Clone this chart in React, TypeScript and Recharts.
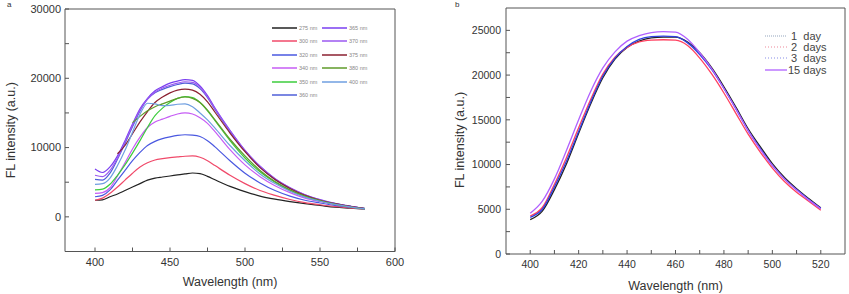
import React from 'react'
import { LineChart, Line, XAxis, YAxis, ReferenceLine, Legend } from 'recharts'

// panel a: emission spectra at different excitation wavelengths
const wlA = [400, 405, 410, 415, 420, 425, 430, 435, 440, 445, 450, 455, 460, 465, 470, 475, 480, 490, 500, 510, 520, 530, 540, 550, 560, 570, 580]

const ex275 = [2400, 2450, 2900, 3300, 3800, 4300, 4800, 5300, 5600, 5750, 5900, 6050, 6200, 6330, 6250, 5850, 5350, 4400, 3650, 3000, 2550, 2200, 1900, 1650, 1400, 1250, 1100]
const ex300 = [2400, 2700, 3400, 4300, 5300, 6300, 7200, 7800, 8200, 8400, 8550, 8650, 8750, 8800, 8600, 8100, 7400, 6000, 4800, 3800, 3100, 2500, 2050, 1750, 1500, 1300, 1150]
const ex320 = [2900, 3100, 3900, 5300, 6700, 8100, 9300, 10300, 10900, 11300, 11550, 11750, 11850, 11800, 11600, 11000, 10100, 8100, 6300, 4900, 3800, 3000, 2400, 2000, 1650, 1400, 1200]
const ex340 = [3400, 3500, 4200, 5900, 7800, 9800, 11500, 12900, 13700, 14100, 14500, 14850, 15000, 14850, 14300, 13500, 12300, 9700, 7500, 5800, 4500, 3500, 2700, 2200, 1800, 1450, 1200]
const ex350 = [3900, 4000, 4700, 6000, 7500, 9200, 11000, 12900, 14600, 15700, 16500, 17100, 17350, 17200, 16500, 15300, 13900, 11000, 8500, 6500, 5000, 3800, 2900, 2300, 1850, 1500, 1200]
const ex360 = [5400, 5300, 6300, 8300, 10600, 13000, 15300, 17000, 17900, 18400, 18800, 19100, 19300, 19200, 18500, 17200, 15500, 12300, 9500, 7200, 5400, 4100, 3100, 2400, 1900, 1500, 1200]
const ex365 = [6900, 6400, 7200, 8800, 11000, 13400, 15600, 17100, 18200, 18800, 19300, 19600, 19800, 19700, 18900, 17500, 15700, 12500, 9600, 7300, 5500, 4200, 3200, 2500, 1950, 1550, 1200]
const ex370 = [6000, 5800, 6700, 8500, 10800, 13200, 15400, 17000, 18000, 18600, 19000, 19300, 19500, 19400, 18700, 17300, 15600, 12400, 9600, 7300, 5500, 4200, 3200, 2450, 1900, 1500, 1150]
const ex375 = [null, null, null, 9100, 10300, 12000, 13700, 15200, 16500, 17300, 17900, 18300, 18450, 18300, 17700, 16600, 15100, 12100, 9400, 7100, 5400, 4100, 3100, 2400, 1900, 1500, 1200]
const ex380 = [null, null, null, null, null, 13600, 14500, 15300, 15900, 16300, 16700, 17100, 17300, 17100, 16500, 15400, 14000, 11200, 8800, 6700, 5100, 3900, 3000, 2350, 1850, 1450, 1150]
const ex400 = [4700, 4800, 5600, 7400, 9600, 12200, 14800, 16400, 16300, 16050, 16100, 16250, 16300, 15900, 15000, 14000, 12800, 10300, 8100, 6200, 4800, 3700, 2850, 2250, 1800, 1450, 1150]

const seriesA = [
  { key: 'ex275', name: '275 nm', color: '#222222', values: ex275 },
  { key: 'ex300', name: '300 nm', color: '#f04a6a', values: ex300 },
  { key: 'ex320', name: '320 nm', color: '#4a58e0', values: ex320 },
  { key: 'ex340', name: '340 nm', color: '#c65cf5', values: ex340 },
  { key: 'ex350', name: '350 nm', color: '#3ccc3c', values: ex350 },
  { key: 'ex360', name: '360 nm', color: '#4f5fd8', values: ex360 },
  { key: 'ex365', name: '365 nm', color: '#7a3ff0', values: ex365 },
  { key: 'ex370', name: '370 nm', color: '#9b59f0', values: ex370 },
  { key: 'ex375', name: '375 nm', color: '#8b2030', values: ex375 },
  { key: 'ex380', name: '380 nm', color: '#5f9b2a', values: ex380 },
  { key: 'ex400', name: '400 nm', color: '#6f9fe0', values: ex400 },
]

const xTicksA = [400, 425, 450, 475, 500, 525, 550, 575, 600]
const yTicksA = [-5000, 0, 5000, 10000, 15000, 20000, 25000, 30000]

// panel b: stability over days
const wlB = [400, 405, 410, 415, 420, 425, 430, 435, 440, 445, 450, 455, 460, 465, 470, 475, 480, 485, 490, 495, 500, 505, 510, 515, 520]

const day1 = [3850, 4800, 7200, 10100, 13500, 16800, 19700, 21800, 23100, 23800, 24150, 24250, 24250, 23700, 22500, 20800, 18700, 16400, 14000, 12000, 10100, 8550, 7300, 6200, 5150]
const day2 = [4250, 5200, 7800, 10800, 14100, 17300, 20100, 22000, 23100, 23700, 23900, 23950, 23900, 23300, 21900, 20100, 18000, 15700, 13400, 11400, 9600, 8100, 6900, 5900, 4900]
const day3 = [4100, 5000, 7500, 10400, 13700, 17000, 19900, 21900, 23200, 24000, 24300, 24350, 24300, 23600, 22300, 20600, 18500, 16200, 13800, 11800, 9900, 8400, 7200, 6100, 5100]
const day15 = [4550, 5900, 8400, 11600, 15000, 18200, 20800, 22600, 23800, 24400, 24750, 24850, 24800, 24000, 22500, 20700, 18500, 16200, 13800, 11700, 9900, 8400, 7150, 6050, 5050]

const seriesB = [
  { key: 'd1', name: ' 1  day', color: '#222222', legend: '#b8c4d4', dash: '1 1', values: day1 },
  { key: 'd2', name: ' 2  days', color: '#ff4060', legend: '#f4b0bc', dash: '1 2', values: day2 },
  { key: 'd3', name: ' 3  days', color: '#3040e0', legend: '#b0b4f0', dash: '1 2', values: day3 },
  { key: 'd15', name: '15 days', color: '#b060ff', legend: '#b060ff', dash: undefined, values: day15 },
]

const xTicksB = [400, 410, 420, 430, 440, 450, 460, 470, 480, 490, 500, 510, 520]
const yTicksB = [0, 2500, 5000, 7500, 10000, 12500, 15000, 17500, 20000, 22500, 25000]

const dataA = wlA.map((wl, i) => {
  const row: Record<string, number | null> = { wl }
  seriesA.forEach((s) => (row[s.key] = s.values[i]))
  return row
})

const dataB = wlB.map((wl, i) => {
  const row: Record<string, number | null> = { wl }
  seriesB.forEach((s) => (row[s.key] = s.values[i]))
  return row
})

const font = '"Liberation Sans", Arial, sans-serif'
const axisColor = '#555'

function LegendA() {
  return (
    <div
      style={{
        display: 'grid',
        gridTemplateRows: 'repeat(6, 13.5px)',
        gridAutoFlow: 'column',
        gridAutoColumns: '50px',
        fontFamily: font,
      }}
    >
      {seriesA.map((s) => (
        <div key={s.key} style={{ display: 'flex', alignItems: 'center' }}>
          <svg width={25} height={4}>
            <line x1={0} y1={2} x2={25} y2={2} stroke={s.color} strokeWidth={1.5} />
          </svg>
          <span style={{ fontSize: 5.5, marginLeft: 2, color: '#888' }}>{s.name}</span>
        </div>
      ))}
    </div>
  )
}

function LegendB() {
  return (
    <div style={{ fontFamily: font }}>
      {seriesB.map((s) => (
        <div key={s.key} style={{ display: 'flex', alignItems: 'center', height: 11.3 }}>
          <svg width={23} height={4}>
            <line x1={0} y1={2} x2={22} y2={2} stroke={s.legend} strokeWidth={1.3} strokeDasharray={s.dash} />
          </svg>
          <span style={{ fontSize: 11, color: '#444', whiteSpace: 'pre' }}>{s.name}</span>
        </div>
      ))}
    </div>
  )
}

export default function App() {
  return (
    <div style={{ position: 'fixed', left: 0, top: 0, width: 849, height: 294, background: '#fff', fontFamily: font }}>
      <div style={{ position: 'absolute', left: 7, top: 0, fontSize: 8, color: '#333' }}>a</div>
      <div style={{ position: 'absolute', left: 455, top: 0, fontSize: 8, color: '#333' }}>b</div>

      <div style={{ position: 'absolute', left: 0, top: 0 }}>
        <LineChart width={410} height={294} data={dataA} margin={{ top: 9, right: 15, bottom: 2.5, left: 0 }}>
          <XAxis
            dataKey="wl"
            type="number"
            domain={[380, 600]}
            ticks={xTicksA}
            interval={0}
            tickFormatter={(v: number) => (v % 50 === 0 ? String(v) : '')}
            tickSize={-4}
            tickMargin={11}
            height={40}
            stroke={axisColor}
            tick={{ fill: '#333', fontSize: 11 }}
            label={{ value: 'Wavelength (nm)', position: 'insideBottom', offset: 6, fill: '#333', fontSize: 12.5, fontWeight: 'normal' }}
          />
          <YAxis
            type="number"
            domain={[-5000, 30000]}
            ticks={yTicksA}
            interval={0}
            tickFormatter={(v: number) => (v % 10000 === 0 ? String(v) : '')}
            tickSize={-4}
            tickMargin={8}
            width={65}
            stroke={axisColor}
            tick={{ fill: '#333', fontSize: 11 }}
            label={{
              value: 'FL intensity (a.u.)',
              angle: -90,
              position: 'insideLeft',
              offset: 11,
              fill: '#333',
              fontSize: 12.5,
              style: { textAnchor: 'middle' },
            }}
          />
          <ReferenceLine y={30000} stroke={axisColor} />
          <ReferenceLine x={600} stroke={axisColor} />
          {seriesA.map((s) => (
            <Line
              key={s.key}
              dataKey={s.key}
              name={s.name}
              type="monotone"
              stroke={s.color}
              strokeWidth={1.2}
              dot={false}
              isAnimationActive={false}
            />
          ))}
          <Legend
            layout="vertical"
            align="center"
            verticalAlign="middle"
            content={() => <LegendA />}
            wrapperStyle={{ position: 'absolute', left: 272, top: 21, width: 'auto', height: 'auto' }}
          />
        </LineChart>
      </div>

      <div style={{ position: 'absolute', left: 420, top: 0 }}>
        <LineChart width={429} height={294} data={dataB} margin={{ top: 8, right: 4, bottom: 0, left: 0 }}>
          <XAxis
            dataKey="wl"
            type="number"
            domain={[390, 530]}
            ticks={xTicksB}
            interval={0}
            tickFormatter={(v: number) => (v % 20 === 0 ? String(v) : '')}
            tickSize={-4}
            tickMargin={10.6}
            height={40}
            stroke={axisColor}
            tick={{ fill: '#333', fontSize: 10.5 }}
            label={{ value: 'Wavelength (nm)', position: 'insideBottom', offset: 4.5, fill: '#333', fontSize: 12.5 }}
          />
          <YAxis
            type="number"
            domain={[0, 27500]}
            ticks={yTicksB}
            interval={0}
            tickFormatter={(v: number) => (v % 5000 === 0 ? String(v) : '')}
            tickSize={-4}
            tickMargin={9}
            width={86}
            stroke={axisColor}
            tick={{ fill: '#333', fontSize: 10.5 }}
            label={{
              value: 'FL intensity (a.u.)',
              angle: -90,
              position: 'insideLeft',
              offset: 40,
              dy: 9,
              fill: '#333',
              fontSize: 12.5,
              style: { textAnchor: 'middle' },
            }}
          />
          <ReferenceLine y={27500} stroke={axisColor} />
          <ReferenceLine x={530} stroke={axisColor} />
          {seriesB.map((s) => (
            <Line
              key={s.key}
              dataKey={s.key}
              name={s.name}
              type="monotone"
              stroke={s.color}
              strokeWidth={1.3}
              dot={false}
              isAnimationActive={false}
            />
          ))}
          <Legend
            layout="vertical"
            align="center"
            verticalAlign="middle"
            content={() => <LegendB />}
            wrapperStyle={{ position: 'absolute', left: 345, top: 30, width: 'auto', height: 'auto' }}
          />
        </LineChart>
      </div>
    </div>
  )
}
